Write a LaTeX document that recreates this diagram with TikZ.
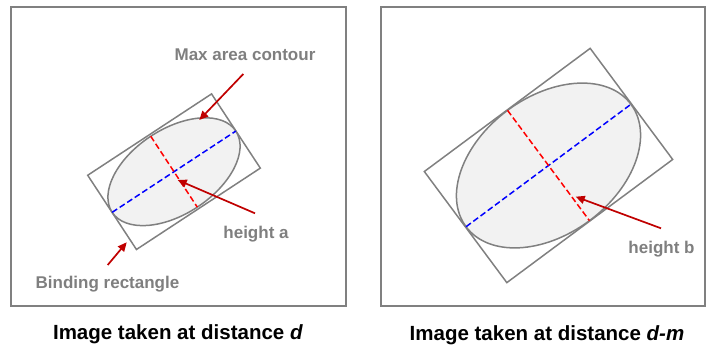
\documentclass[tikz,border=0pt]{standalone}
\usepackage{fontspec}
\setmainfont{Liberation Sans}
\usetikzlibrary{arrows.meta}
\definecolor{frameGray}{HTML}{808080}
\definecolor{labelGray}{HTML}{7F7F7F}
\definecolor{blobFill}{HTML}{F2F2F2}
\definecolor{calloutRed}{HTML}{C00000}
\newcommand{\lblFont}{\fontsize{17}{20}\selectfont\bfseries}
\newcommand{\ttlFont}{\fontsize{20.5}{24}\selectfont\bfseries}

\begin{document}
\begin{tikzpicture}[x=1pt,y=-1pt,
  frame/.style={frameGray, line width=1.5pt},
  contour/.style={frameGray, line width=1.5pt, fill=blobFill},
  bindrect/.style={frameGray, line width=1.5pt},
  majoraxis/.style={blue, line width=1.5pt, dash pattern=on 6pt off 3pt},
  minoraxis/.style={red, line width=1.5pt, dash pattern=on 6pt off 3pt},
  callout/.style={calloutRed, line width=1.7pt, -{Triangle[length=9pt,width=8pt]}},
  lbl/.style={font=\lblFont, text=labelGray, anchor=base, inner sep=0pt},
  ttl/.style={font=\ttlFont, text=black, anchor=base, inner sep=0pt}]
\useasboundingbox (0,0) rectangle (706,347);
% frames
\draw[frame] (11,7) rectangle (346,306);
\draw[frame] (381,7) rectangle (705,306);
% left picture, distance d
\begin{scope}[shift={(174,171.7)}, rotate=33.3]
\draw[bindrect] (-74.1,-44.4) rectangle (74.1,44.4);
\draw[contour] (0,0) ellipse [x radius=74, y radius=42.4];
\draw[majoraxis] (-74,0) -- (74,0);
\draw[minoraxis] (0,-42.4) -- (0,42.4);
\end{scope}
% right picture, distance d-m
\begin{scope}[shift={(548.5,165.5)}, rotate=36.6]
\draw[bindrect] (-103.3,-69.2) rectangle (103.3,69.2);
\draw[contour] (0,0) ellipse [x radius=102.7, y radius=68.7];
\draw[majoraxis] (-102.7,0) -- (102.7,0);
\draw[minoraxis] (0,-68.7) -- (0,68.7);
\end{scope}
% labels
\node[lbl] (lblMax) at (245,60.7) {Max area contour};
\node[lbl] (lblHa) at (256,238.3) {height a};
\node[lbl] (lblBind) at (107.5,288.7) {Binding rectangle};
\node[lbl] (lblHb) at (661.5,254) {height b};
\node[ttl] (ttlD) at (178,339.7) {Image taken at distance \textit{d}};
\node[ttl] (ttlDm) at (547,340.7) {Image taken at distance \textit{d-m}};
% callout arrows
\coordinate (maxTail) at (243.3,74);
\coordinate (maxTip) at (199.3,120);
\coordinate (haTail) at (255,213.3);
\coordinate (haTip) at (177.7,180);
\coordinate (bindTail) at (107.7,265);
\coordinate (bindTip) at (126.7,242.3);
\coordinate (hbTail) at (661,228.3);
\coordinate (hbTip) at (575.7,196.7);
\draw[callout] (maxTail) -- (maxTip);
\draw[callout] (haTail) -- (haTip);
\draw[callout] (bindTail) -- (bindTip);
\draw[callout] (hbTail) -- (hbTip);
\end{tikzpicture}
\end{document}
